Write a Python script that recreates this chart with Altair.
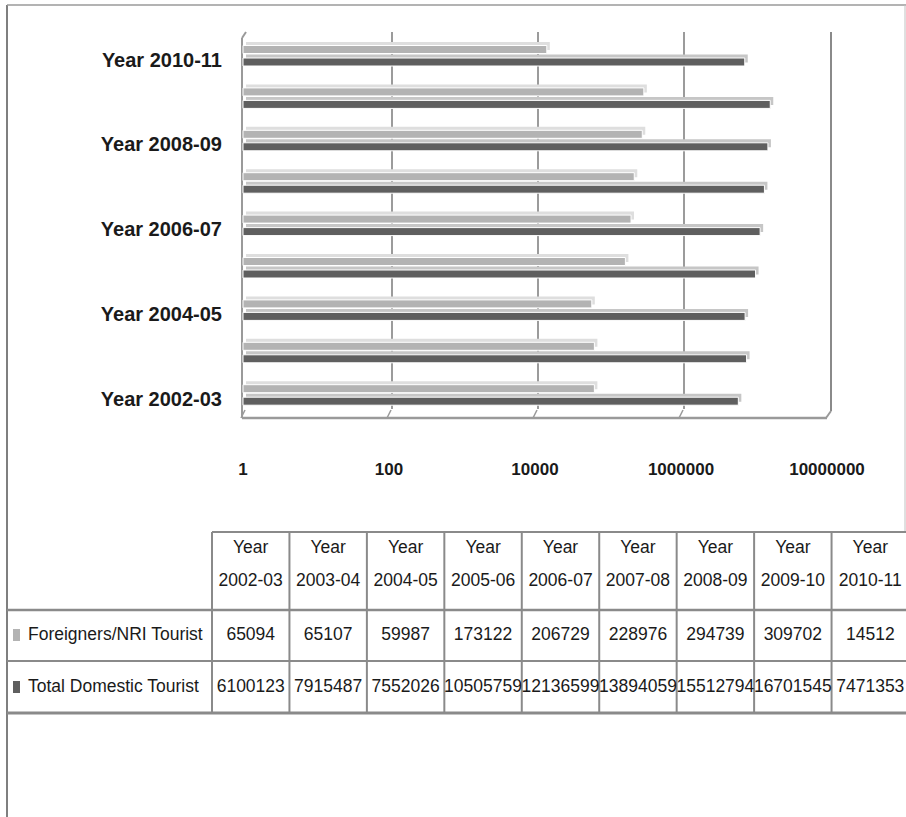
import altair as alt
import pandas as pd

# Tourist arrivals per financial year
periods = ["2002-03", "2003-04", "2004-05", "2005-06", "2006-07",
           "2007-08", "2008-09", "2009-10", "2010-11"]
foreign = [65094, 65107, 59987, 173122, 206729, 228976, 294739, 309702, 14512]
domestic = [6100123, 7915487, 7552026, 10505759, 12136599, 13894059,
            15512794, 16701545, 7471353]
series_names = ["Foreigners/NRI Tourist", "Total Domestic Tourist"]

# Category labels shown beside the bars (every second year)
labelled_periods = ["2002-03", "2004-05", "2006-07", "2008-09", "2010-11"]

# Log axis ticks and their printed labels
axis_ticks = [1, 100, 10000, 1000000, 100000000]
axis_tick_labels = ["1", "100", "10000", "1000000", "10000000"]
grid_ticks = [100, 10000, 1000000]
floor_ticks = [1, 100, 10000, 1000000]

FONT = "Liberation Sans, Arial, sans-serif"
LIGHT, LIGHT_TOP = "#b3b3b3", "#dedede"
DARK, DARK_TOP = "#5f5f5f", "#c6c6c6"
LINE = "#8a8a8a"
TEXT = "#1a1a1a"

bars_df = pd.DataFrame({"period": periods, "foreign": foreign,
                        "domestic": domestic, "base": [1] * len(periods)})
label_df = pd.DataFrame({"period": labelled_periods,
                         "label": ["Year " + p for p in labelled_periods]})
tick_df = pd.DataFrame({"tick": axis_ticks, "label": axis_tick_labels})
grid_df = pd.DataFrame({"tick": grid_ticks})
floor_df = pd.DataFrame({"tick": floor_ticks})
table_df = pd.DataFrame({"period": periods,
                         "header": ["Year\n" + p for p in periods],
                         "foreign": [str(v) for v in foreign],
                         "domestic": [str(v) for v in domestic]})

# Scales placed inside one 906x817 canvas
xs = alt.Scale(type="log", domain=[1, 100000000], range=[243, 827], nice=False)
ys = alt.Scale(domain=periods[::-1], range=[34.3, 415.9], paddingInner=0, paddingOuter=0)
cols = alt.Scale(domain=periods, range=[212, 909], paddingInner=0, paddingOuter=0)

# Table row lines
T_TOP, T_R1, T_R2, T_BOT = 532, 610, 661, 713
Y_HEAD, Y_FOREIGN, Y_DOMESTIC = 548, 635, 687
TABLE_FS = 17.5


def line(x1, y1, x2, y2, color=LINE, width=2.0):
    return alt.Chart().mark_rule(color=color, strokeWidth=width).encode(
        x=alt.value(x1), y=alt.value(y1), x2=alt.value(x2), y2=alt.value(y2))


def bars(field, color, size, dy, dx=0, stroke=None):
    props = dict(color=color, size=size, yOffset=dy, xOffset=dx, x2Offset=dx)
    if stroke:
        props.update(stroke=stroke, strokeWidth=1)
    return alt.Chart(bars_df).mark_bar(**props).encode(
        x=alt.X(f"{field}:Q", scale=xs, axis=None),
        x2="base:Q",
        y=alt.Y("period:N", scale=ys, axis=None),
    )


layers = []

# Outer frame of the chart area
layers += [
    line(7, 5, 7, 817, "#7f7f7f", 2),
    line(7, 5, 906, 5, "#9a9a9a", 1.5),
    line(905, 5, 905, T_TOP, "#c0c0c0", 1),
]

# Back-wall gridlines
layers.append(alt.Chart(grid_df).mark_rule(color="#7a7a7a", strokeWidth=1.5, xOffset=3).encode(
    x=alt.X("tick:Q", scale=xs, axis=None), y=alt.value(32), y2=alt.value(409)))

# Walls and floor of the 3-D plot box
layers += [
    line(242, 38, 246, 32, "#9a9a9a", 2),
    line(242, 38, 242, 418, "#9a9a9a", 2),
    line(242, 418, 827, 418, "#9a9a9a", 2.5),
    line(831, 32, 831, 411, "#8a8a8a", 2),
    line(831, 411, 826, 418, "#9a9a9a", 2),
]
layers.append(alt.Chart(floor_df).mark_rule(color="#9a9a9a", strokeWidth=1.5, xOffset=2, x2Offset=-2).encode(
    x=alt.X("tick:Q", scale=xs, axis=None), x2="tick:Q", y=alt.value(410), y2=alt.value(418)))

# Bars with a lighter top face for the 3-D look
layers += [
    bars("foreign", LIGHT_TOP, 8, -9.5, 3),
    bars("foreign", LIGHT, 8, -6, 0, "white"),
    bars("domestic", DARK_TOP, 8, 3, 3),
    bars("domestic", DARK, 8, 6.5, 0, "white"),
]

# Category labels
layers.append(alt.Chart(label_df).mark_text(
    align="right", baseline="middle", font=FONT, fontSize=20, fontWeight="bold",
    color=TEXT, yOffset=5).encode(
    x=alt.value(222), y=alt.Y("period:N", scale=ys, axis=None), text="label:N"))

# Value axis labels
layers.append(alt.Chart(tick_df).mark_text(
    align="center", baseline="middle", font=FONT, fontSize=17, fontWeight="bold",
    color=TEXT).encode(
    x=alt.X("tick:Q", scale=xs, axis=None), y=alt.value(470), text="label:N"))

# Data table grid
layers += [
    line(212, T_TOP, 906, T_TOP),
    line(7, T_R1, 906, T_R1, LINE, 2.5),
    line(7, T_R2, 906, T_R2, LINE, 2),
    line(7, T_BOT, 906, T_BOT, LINE, 3),
]
layers.append(alt.Chart(table_df).mark_rule(color=LINE, strokeWidth=2).encode(
    x=alt.X("period:N", scale=cols, axis=None, bandPosition=0),
    y=alt.value(T_TOP), y2=alt.value(T_BOT)))

# Table header and values
layers.append(alt.Chart(table_df).mark_text(
    lineBreak="\n", lineHeight=33, baseline="middle", font=FONT, fontSize=TABLE_FS,
    color=TEXT).encode(
    x=alt.X("period:N", scale=cols, axis=None), y=alt.value(Y_HEAD), text="header:N"))
layers.append(alt.Chart(table_df).mark_text(
    baseline="middle", font=FONT, fontSize=TABLE_FS, color=TEXT).encode(
    x=alt.X("period:N", scale=cols, axis=None), y=alt.value(Y_FOREIGN), text="foreign:N"))
layers.append(alt.Chart(table_df).mark_text(
    baseline="middle", font=FONT, fontSize=TABLE_FS, color=TEXT).encode(
    x=alt.X("period:N", scale=cols, axis=None), y=alt.value(Y_DOMESTIC), text="domestic:N"))

# Row labels with legend keys
for name, ypos, color in [(series_names[0], Y_FOREIGN, LIGHT), (series_names[1], Y_DOMESTIC, DARK)]:
    layers.append(alt.Chart().mark_rect(color=color).encode(
        x=alt.value(13), x2=alt.value(20), y=alt.value(ypos - 6), y2=alt.value(ypos + 6)))
    layers.append(alt.Chart().mark_text(
        align="left", baseline="middle", font=FONT, fontSize=17.5, color=TEXT).encode(
        x=alt.value(28), y=alt.value(ypos), text=alt.value(name)))

chart = alt.layer(*layers).properties(
    width=906, height=817, padding=0, autosize="none", background="white"
).resolve_scale(x="independent", y="independent").configure_view(stroke=None)

chart.save("out.html", embed_options={"renderer": "svg", "actions": False})
